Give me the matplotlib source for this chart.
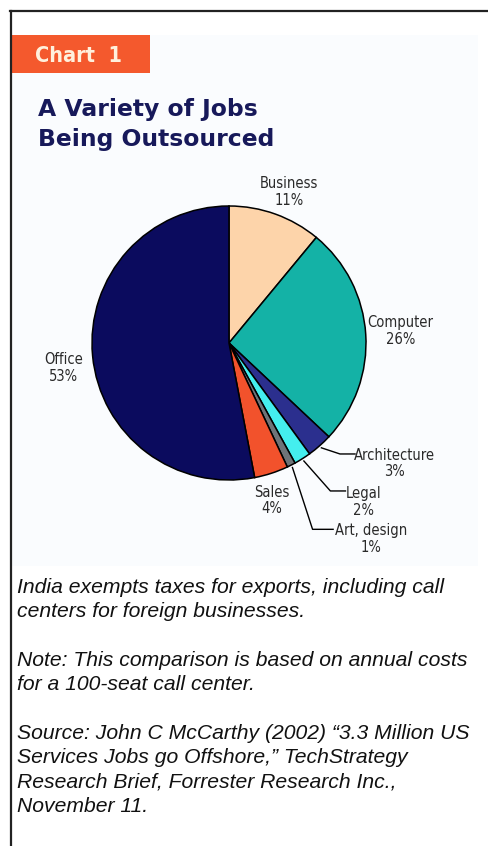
import numpy as np
import matplotlib.pyplot as plt
from matplotlib.patches import Rectangle
from matplotlib.lines import Line2D

# job categories sent offshore, in drawing order (clockwise from 12 o'clock)
categories = ["Business", "Computer", "Architecture", "Legal", "Art, design", "Sales", "Office"]
shares = [11, 26, 3, 2, 1, 4, 53]
slice_colors = ["#fdd4aa", "#14b2a6", "#2b2f8e", "#44eeee", "#6e7478", "#f2522c", "#0b0b5e"]

notes = [
    ["India exempts taxes for exports, including call",
     "centers for foreign businesses."],
    ["Note: This comparison is based on annual costs",
     "for a 100-seat call center."],
    ["Source: John C McCarthy (2002) \u201c3.3 Million US",
     "Services Jobs go Offshore,\u201d TechStrategy",
     "Research Brief, Forrester Research Inc.,",
     "November 11."],
]

W, H = 488, 846
fig = plt.figure(figsize=(W / 100, H / 100), dpi=100)
fig.patch.set_facecolor("white")


def px(x, y):
    # pixel position (from top-left) -> figure fraction
    return x / W, 1 - y / H


# frame: top and left rules
fig.add_artist(Line2D([10 / W, 1], [1 - 11 / H] * 2, color="#222222", lw=1.6))
fig.add_artist(Line2D([11 / W] * 2, [0, 1 - 11 / H], color="#222222", lw=1.6))

# faint panel behind the chart
fig.add_artist(Rectangle(px(12, 566), 466 / W, 531 / H, facecolor="#fafcfe",
                         edgecolor="none", zorder=0))

# "Chart 1" tab
fig.add_artist(Rectangle(px(12, 73), 138 / W, 38 / H, facecolor="#f4592d",
                         edgecolor="none"))
fig.text(*px(35, 62), "Chart  1", color="#fff0dc", fontsize=15.5,
         family="DejaVu Sans", stretch="condensed", weight="bold", va="baseline")

# title
for i, line in enumerate(["A Variety of Jobs", "Being Outsourced"]):
    fig.text(*px(38, 116 + 30 * i), line, color="#17195a", fontsize=16.9,
             family="DejaVu Sans", weight="bold", va="baseline")

# pie
cx, cy, R = 229, 343, 137
ax = fig.add_axes([(cx - R) / W, (H - cy - R) / H, 2 * R / W, 2 * R / H])
ax.pie(shares, colors=slice_colors, startangle=90, counterclock=False,
       radius=1, wedgeprops=dict(edgecolor="black", linewidth=1.1))
ax.set_xlim(-1, 1)
ax.set_ylim(-1, 1)
ax.set_aspect("equal")
ax.axis("off")

lab_font = dict(family="DejaVu Sans", stretch="condensed", fontsize=10.5,
                color="#2a2a2a", ha="center", va="center", linespacing=1.15,
                clip_on=False)

# label positions in pie units (radius = 1)
plain_pos = {"Business": (0.44, 1.10), "Computer": (1.25, 0.09),
             "Office": (-1.21, -0.18), "Sales": (0.31, -1.15)}
# (text centre, elbow point, line end) for labels with leader lines
leader_pos = {"Architecture": ((1.21, -0.88), (0.81, -0.81), (0.92, -0.81)),
              "Legal": ((0.98, -1.16), (0.74, -1.08), (0.85, -1.08)),
              "Art, design": ((1.04, -1.43), (0.61, -1.36), (0.76, -1.36))}

cum = np.cumsum([0] + shares)
for i, (name, val) in enumerate(zip(categories, shares)):
    text = f"{name}\n{val}%"
    if name in plain_pos:
        ax.text(*plain_pos[name], text, **lab_font)
    else:
        (tx, ty), (ex, ey), (lx, ly) = leader_pos[name]
        mid = (cum[i] + val / 2) / sum(shares) * 360
        ang = np.deg2rad(90 - mid)
        sx, sy = 1.02 * np.cos(ang), 1.02 * np.sin(ang)
        ax.plot([sx, ex, lx], [sy, ey, ly], color="black", lw=1.0, clip_on=False)
        ax.text(tx, ty, text, **lab_font)

# footnotes
y = 593
for para in notes:
    for line in para:
        fig.text(*px(17, y), line, fontsize=15.2, style="italic",
                 family="Liberation Sans", color="#111111", va="baseline")
        y += 24.3
    y += 24.5

fig.savefig("out.png", dpi=100)
